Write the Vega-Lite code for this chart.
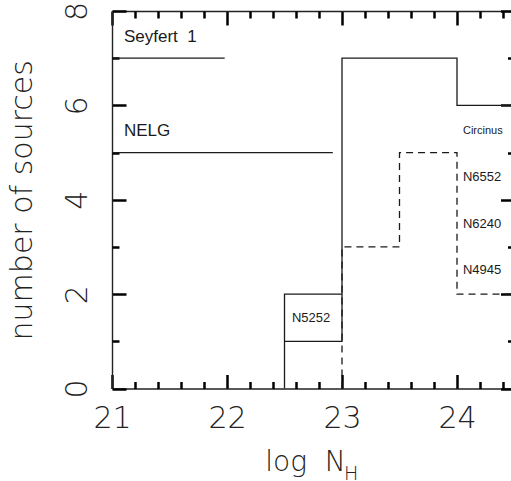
{
  "$schema": "https://vega.github.io/schema/vega-lite/v6.json",
  "width": 402.5,
  "height": 377.5,
  "autosize": "none",
  "padding": {"left": 112, "top": 11, "right": 0, "bottom": 93},
  "background": "white",
  "config": {
    "view": {"stroke": null},
    "axis": {"domainColor": "#222", "domainWidth": 1.4, "tickColor": "#000", "tickWidth": 2.5, "tickOpacity": 1, "grid": false, "labelColor": "#222", "titleColor": "#222", "labelFont": "DejaVu Sans", "labelFontWeight": 200, "titleFont": "DejaVu Sans", "titleFontWeight": 200}
  },
  "datasets": {
    "lines": [
      {"seg": "s1", "style": "solid", "o": 1, "x": 21, "y": 7},
      {"seg": "s1", "style": "solid", "o": 2, "x": 21.98, "y": 7},
      {"seg": "s2", "style": "solid", "o": 1, "x": 21, "y": 5},
      {"seg": "s2", "style": "solid", "o": 2, "x": 22.92, "y": 5},
      {"seg": "s3", "style": "solid", "o": 1, "x": 22.5, "y": 0},
      {"seg": "s3", "style": "solid", "o": 2, "x": 22.5, "y": 2},
      {"seg": "s3", "style": "solid", "o": 3, "x": 23, "y": 2},
      {"seg": "s3", "style": "solid", "o": 4, "x": 23, "y": 7},
      {"seg": "s3", "style": "solid", "o": 5, "x": 24, "y": 7},
      {"seg": "s3", "style": "solid", "o": 6, "x": 24, "y": 6},
      {"seg": "s3", "style": "solid", "o": 7, "x": 24.5, "y": 6},
      {"seg": "s4", "style": "solid", "o": 1, "x": 22.5, "y": 1},
      {"seg": "s4", "style": "solid", "o": 2, "x": 23, "y": 1},
      {"seg": "s4", "style": "solid", "o": 3, "x": 23, "y": 2},
      {"seg": "d1", "style": "dashed", "o": 1, "x": 23, "y": 0},
      {"seg": "d1", "style": "dashed", "o": 2, "x": 23, "y": 3},
      {"seg": "d1", "style": "dashed", "o": 3, "x": 23.5, "y": 3},
      {"seg": "d1", "style": "dashed", "o": 4, "x": 23.5, "y": 5},
      {"seg": "d1", "style": "dashed", "o": 5, "x": 24, "y": 5},
      {"seg": "d1", "style": "dashed", "o": 6, "x": 24, "y": 2},
      {"seg": "d1", "style": "dashed", "o": 7, "x": 24.5, "y": 2}
    ],
    "labels": [
      {"cat": "type", "text": "Seyfert\u00a0 1", "x": 21.104, "y": 7.34},
      {"cat": "type", "text": "NELG", "x": 21.104, "y": 5.35},
      {"cat": "ngc", "text": "N5252", "x": 22.565, "y": 1.4},
      {"cat": "name", "text": "Circinus", "x": 24.052, "y": 5.4},
      {"cat": "ngc", "text": "N6552", "x": 24.052, "y": 4.4},
      {"cat": "ngc", "text": "N6240", "x": 24.052, "y": 3.41},
      {"cat": "ngc", "text": "N4945", "x": 24.052, "y": 2.43}
    ],
    "sub": [{"text": "H", "x": 23.08, "y": -1.93}]
  },
  "layer": [
    {
      "data": {"name": "lines"},
      "transform": [{"filter": "datum.style == 'solid'"}],
      "mark": {"type": "line", "color": "#1a1a1a", "strokeWidth": 1.3},
      "encoding": {
        "x": {"field": "x", "type": "quantitative",
          "scale": {"domain": [21, 24.5], "nice": false, "zero": false},
          "axis": {"orient": "bottom", "title": "log\u00a0 N", "tickSize": -14,
            "values": [21, 22, 23, 24], "format": "d",
            "labelFontSize": 30, "labelPadding": 29, "labelFlush": false, "labelOverlap": false,
            "titleFontSize": 28, "titleBaseline": "alphabetic", "titleY": 82, "titleX": 193, "titleAnchor": "middle"}},
        "y": {"field": "y", "type": "quantitative",
          "scale": {"domain": [0, 8], "nice": false, "zero": false},
          "axis": {"orient": "left", "title": "number of sources", "tickSize": -14,
            "values": [0, 2, 4, 6, 8], "format": "d",
            "labelAngle": -90, "labelAlign": "center", "labelBaseline": "alphabetic",
            "labelFontSize": 30, "labelPadding": 40, "labelFlush": false, "labelOverlap": false,
            "titleFontSize": 30, "titleBaseline": "alphabetic", "titleAngle": -90, "titleX": -81, "titleAnchor": "middle"}},
        "detail": {"field": "seg"},
        "order": {"field": "o"}
      }
    },
    {
      "data": {"name": "lines"},
      "transform": [{"filter": "datum.style == 'dashed'"}],
      "mark": {"type": "line", "color": "#1a1a1a", "strokeWidth": 1.3, "strokeDash": [7, 5]},
      "encoding": {
        "x": {"field": "x", "type": "quantitative",
          "axis": {"orient": "top", "title": null, "labels": false, "values": [21, 22, 23, 24], "tickSize": -14}},
        "y": {"field": "y", "type": "quantitative",
          "axis": {"orient": "right", "title": null, "labels": false, "values": [0, 2, 4, 6, 8], "tickSize": -14}},
        "detail": {"field": "seg"},
        "order": {"field": "o"}
      }
    },
    {
      "data": {"name": "labels"},
      "transform": [{"filter": "datum.cat == 'type'"}],
      "mark": {"type": "text", "font": "Liberation Sans", "fontSize": 17, "align": "left", "baseline": "alphabetic", "color": "#1a1a1a"},
      "encoding": {
        "x": {"field": "x", "type": "quantitative",
          "axis": {"orient": "bottom", "title": null, "labels": false, "domain": false,
            "values": [21.2, 21.4, 21.6, 21.8, 22.2, 22.4, 22.6, 22.8, 23.2, 23.4, 23.6, 23.8, 24.2, 24.4], "tickSize": -7}},
        "y": {"field": "y", "type": "quantitative",
          "axis": {"orient": "left", "title": null, "labels": false, "domain": false, "values": [1, 3, 5, 7], "tickSize": -7}},
        "text": {"field": "text"}
      }
    },
    {
      "data": {"name": "labels"},
      "transform": [{"filter": "datum.cat == 'ngc'"}],
      "mark": {"type": "text", "font": "Liberation Sans", "fontSize": 13, "align": "left", "baseline": "alphabetic", "color": "#1a1a1a"},
      "encoding": {
        "x": {"field": "x", "type": "quantitative",
          "axis": {"orient": "top", "title": null, "labels": false, "domain": false,
            "values": [21.2, 21.4, 21.6, 21.8, 22.2, 22.4, 22.6, 22.8, 23.2, 23.4, 23.6, 23.8, 24.2, 24.4], "tickSize": -7}},
        "y": {"field": "y", "type": "quantitative",
          "axis": {"orient": "right", "title": null, "labels": false, "domain": false, "values": [1, 3, 5, 7], "tickSize": -7}},
        "text": {"field": "text"}
      }
    },
    {
      "data": {"name": "labels"},
      "transform": [{"filter": "datum.cat == 'name'"}],
      "mark": {"type": "text", "font": "Liberation Sans", "fontSize": 11, "align": "left", "baseline": "alphabetic", "color": "#1a1a1a"},
      "encoding": {
        "x": {"field": "x", "type": "quantitative", "axis": null},
        "y": {"field": "y", "type": "quantitative", "axis": null},
        "text": {"field": "text"}
      }
    },
    {
      "data": {"name": "sub"},
      "mark": {"type": "text", "font": "DejaVu Sans", "fontWeight": 200, "fontSize": 19, "align": "center", "baseline": "alphabetic", "color": "#222"},
      "encoding": {
        "x": {"field": "x", "type": "quantitative", "axis": null},
        "y": {"field": "y", "type": "quantitative", "axis": null},
        "text": {"field": "text"}
      }
    }
  ],
  "resolve": {"axis": {"x": "independent", "y": "independent"}}
}
